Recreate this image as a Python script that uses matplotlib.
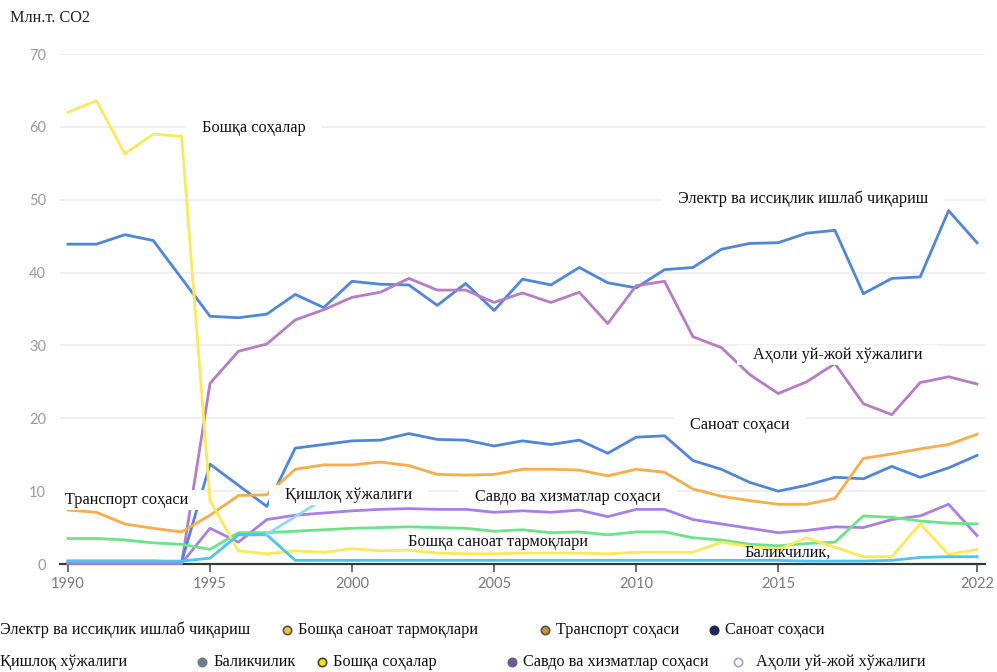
import matplotlib
matplotlib.use("Agg")
import matplotlib.pyplot as plt
from matplotlib.patches import Rectangle
from matplotlib.lines import Line2D

years = list(range(1990, 2023))

electricity = [43.9, 43.9, 45.2, 44.4, 39.2, 34.0, 33.8, 34.3, 37.0, 35.2,
               38.8, 38.4, 38.3, 35.5, 38.5, 34.8, 39.1, 38.3, 40.7, 38.6,
               37.9, 40.4, 40.7, 43.2, 44.0, 44.1, 45.4, 45.8, 37.1, 39.2,
               39.4, 48.5, 44.1]
population = [0.1, 0.1, 0.1, 0.1, 0.1, 24.8, 29.2, 30.2, 33.5, 34.9,
              36.6, 37.3, 39.2, 37.6, 37.6, 35.9, 37.2, 35.9, 37.3, 33.0,
              38.2, 38.8, 31.2, 29.7, 26.0, 23.4, 25.0, 27.5, 22.0, 20.5,
              24.9, 25.7, 24.7]
industry = [0.4, 0.4, 0.4, 0.4, 0.3, 13.7, 10.8, 7.9, 15.9, 16.4,
            16.9, 17.0, 17.9, 17.1, 17.0, 16.2, 16.9, 16.4, 17.0, 15.2,
            17.4, 17.6, 14.2, 13.0, 11.2, 10.0, 10.8, 11.9, 11.7, 13.4,
            11.9, 13.2, 14.9]
transport = [7.4, 7.1, 5.5, 4.9, 4.4, 6.7, 9.4, 9.5, 13.0, 13.6,
             13.6, 14.0, 13.5, 12.3, 12.2, 12.3, 13.0, 13.0, 12.9, 12.1,
             13.0, 12.6, 10.3, 9.3, 8.7, 8.2, 8.2, 9.0, 14.5, 15.1,
             15.8, 16.4, 17.8]
trade = [0.1, 0.1, 0.1, 0.1, 0.1, 4.9, 3.0, 6.1, 6.7, 7.0,
         7.3, 7.5, 7.6, 7.5, 7.5, 7.1, 7.3, 7.1, 7.4, 6.5,
         7.5, 7.5, 6.1, 5.5, 4.9, 4.3, 4.6, 5.1, 5.0, 6.1,
         6.6, 8.2, 3.9]
other_industry = [3.5, 3.5, 3.3, 2.9, 2.7, 2.0, 4.3, 4.3, 4.5, 4.7,
                  4.9, 5.0, 5.1, 5.0, 4.9, 4.5, 4.7, 4.3, 4.4, 4.0,
                  4.4, 4.4, 3.6, 3.3, 2.7, 2.5, 2.8, 3.0, 6.6, 6.4,
                  5.9, 5.6, 5.5]
other = [62.0, 63.6, 56.3, 59.0, 58.7, 8.7, 1.8, 1.4, 1.8, 1.6,
         2.1, 1.8, 1.9, 1.5, 1.4, 1.4, 1.5, 1.5, 1.5, 1.4,
         1.6, 1.6, 1.6, 3.0, 2.4, 2.0, 3.6, 2.3, 1.0, 1.0,
         5.5, 1.3, 2.0]
fishing = [0.4, 0.4, 0.4, 0.4, 0.4, 0.8, 4.0, 4.0, 0.5, 0.5,
           0.5, 0.5, 0.5, 0.5, 0.5, 0.5, 0.5, 0.5, 0.5, 0.5,
           0.5, 0.5, 0.5, 0.5, 0.5, 0.5, 0.4, 0.4, 0.4, 0.5,
           0.9, 1.0, 1.0]
agri_years = [1997, 1998, 1999]
agriculture = [4.1, 6.5, 8.9]

series = [
    (electricity, "#4f86d9"),
    (population, "#b77cc6"),
    (industry, "#4f86d9"),
    (transport, "#f8ad4a"),
    (trade, "#a97ee8"),
    (other_industry, "#6ce38a"),
    (other, "#fbe95a"),
    (fishing, "#4cc3f0"),
]

# (text, x, y, white box behind)
labels = [
    ("Бошқа соҳалар", 1994.72, 59.8, True),
    ("Электр ва иссиқлик ишлаб чиқариш", 2011.47, 50.2, True),
    ("Аҳоли уй-жой хўжалиги", 2014.11, 28.7, True),
    ("Саноат соҳаси", 2011.9, 19.1, True),
    ("Транспорт соҳаси", 1989.9, 8.8, True),
    ("Қишлоқ хўжалиги", 1997.64, 9.5, True),
    ("Савдо ва хизматлар соҳаси", 2004.33, 9.2, True),
    ("Бошқа саноат тармоқлари", 2001.97, 3.0, False),
    ("Баликчилик,", 2013.83, 1.5, False),
]

legend_row1 = [
    ("Электр ва иссиқлик ишлаб чиқариш", None, None, 0),
    ("Бошқа саноат тармоқлари", "#f2c23a", "#555555", 287),
    ("Транспорт соҳаси", "#c8922e", "#555555", 545),
    ("Саноат соҳаси", "#1a2a5e", "#1a2a5e", 714),
]
legend_row2 = [
    ("Қишлоқ хўжалиги", None, None, 0),
    ("Баликчилик", "#707a90", "#707a90", 202),
    ("Бошқа соҳалар", "#f5e800", "#444444", 322),
    ("Савдо ва хизматлар соҳаси", "#6a5c8c", "#6a5c8c", 512),
    ("Аҳоли уй-жой хўжалиги", "white", "#8aa8e0", 738),
]

FS = 11.7
W, H = 997, 672
fig = plt.figure(figsize=(W / 100, H / 100), dpi=100)
ax = fig.add_axes([60 / W, (H - 564) / H, 925 / W, 510 / H])
ax.set_xlim(1990 - 8 / 28.406, 2022 + 8 / 28.406)
ax.set_ylim(0, 70)

for s in ax.spines.values():
    s.set_visible(False)

for v in range(10, 71, 10):
    ax.axhline(v, color="#ececec", lw=1.2, zorder=1)
ax.axhline(0, color="#2e3b3b", lw=1.6, zorder=2, clip_on=False)

for vals, col in series:
    ax.plot(years, vals, color=col, lw=2.0, zorder=3, clip_on=False,
            solid_joinstyle="round")
ax.plot(agri_years, agriculture, color="#8fd8fb", lw=2.0, zorder=3)

ax.set_yticks(range(0, 71, 10))
ax.set_xticks([1990, 1995, 2000, 2005, 2010, 2015, 2022])
ax.tick_params(axis="y", length=0, pad=10, labelcolor="#9a9a9a",
               labelsize=10.5)
ax.tick_params(axis="x", length=6, width=1.2, color="#555555", pad=3,
               labelcolor="#7a7a7a", labelsize=10.5)
for t in ax.get_xticklabels() + ax.get_yticklabels():
    t.set_fontfamily("Lato")

boxed = []
for txt, x, y, box in labels:
    t = ax.text(x, y, txt, fontsize=FS, family="Liberation Serif",
                ha="left", va="center", color="#111111", zorder=6)
    if box:
        boxed.append(t)

fig.text(10 / W, 1 - 18 / H, "Млн.т. СО2", fontsize=FS,
         family="Liberation Serif", va="center", ha="left", color="#222222")

fig.canvas.draw()
renderer = fig.canvas.get_renderer()
inv = ax.transData.inverted()
for t in boxed:
    bb = t.get_window_extent(renderer)
    x0, y0 = inv.transform((bb.x0 - 16, bb.y0 - 2))
    x1, y1 = inv.transform((bb.x1 + 16, bb.y1 + 2))
    ax.add_patch(Rectangle((x0, y0), x1 - x0, y1 - y0, facecolor="white",
                           edgecolor="none", zorder=5, clip_on=False))


def legend_row(items, ypx):
    for txt, fc, ec, xpx in items:
        if fc is None:
            fig.text(xpx / W, 1 - ypx / H, txt, fontsize=FS,
                     family="Liberation Serif", va="center", ha="left",
                     color="#111111")
        else:
            fig.add_artist(Line2D([xpx / W], [1 - ypx / H],
                                  transform=fig.transFigure, marker="o",
                                  markersize=6, markerfacecolor=fc,
                                  markeredgecolor=ec, markeredgewidth=1.2,
                                  linestyle="none"))
            off = 18 if fc == "white" else 11
            fig.text((xpx + off) / W, 1 - ypx / H, txt, fontsize=FS,
                     family="Liberation Serif", va="center", ha="left",
                     color="#111111")


legend_row(legend_row1, 630)
legend_row(legend_row2, 662)

fig.savefig("out.png", dpi=100)
